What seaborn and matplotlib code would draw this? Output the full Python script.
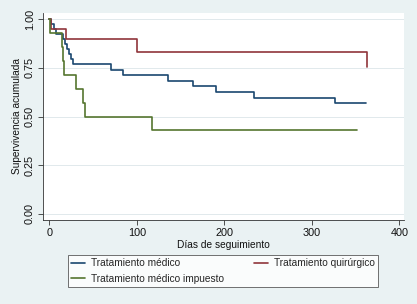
import numpy as np
import pandas as pd
import matplotlib
matplotlib.use("Agg")
import matplotlib.pyplot as plt
import seaborn as sns

# Kaplan-Meier steps
med_t = [0, 1.5, 5, 8, 16, 18, 20.5, 23, 24.5, 27.5, 71, 84, 136, 164, 190.5, 234, 326.5, 361.5]
med_s = [1.0, 0.974, 0.949, 0.923, 0.897, 0.872, 0.846, 0.820, 0.795, 0.769, 0.741, 0.713,
         0.684, 0.656, 0.627, 0.598, 0.569, 0.569]

qui_t = [0, 2, 19, 100, 363]
qui_s = [1.0, 0.95, 0.90, 0.83, 0.755]

imp_t = [0, 1, 15, 15.5, 17, 30, 39, 41, 117, 351.5]
imp_s = [1.0, 0.929, 0.857, 0.786, 0.714, 0.643, 0.571, 0.50, 0.429, 0.429]

labels = ["Tratamiento médico", "Tratamiento quirúrgico", "Tratamiento médico impuesto"]
colors = ["#1a476f", "#90353b", "#55752f"]
x_ticks = [0, 100, 200, 300, 400]
y_ticks = [0.0, 0.25, 0.50, 0.75, 1.00]

frames = []
for lab, t, s in zip(labels, [med_t, qui_t, imp_t], [med_s, qui_s, imp_s]):
    frames.append(pd.DataFrame({"t": t, "s": s, "grupo": lab}))
df = pd.concat(frames, ignore_index=True)

sns.set_theme(style="white")
plt.rcParams["font.family"] = ["Liberation Sans", "DejaVu Sans"]

bg = "#eaf2f3"
fig = plt.figure(figsize=(4.17, 3.04), dpi=100, facecolor=bg)
ax = fig.add_axes([43 / 417, 1 - 220 / 304, 361 / 417, 207 / 304])
ax.set_facecolor("white")

for yv in y_ticks:
    ax.axhline(yv, color="#e1e9ec", lw=0.7, zorder=0)

sns.lineplot(data=df, x="t", y="s", hue="grupo", hue_order=labels,
             palette=dict(zip(labels, colors)), estimator=None, sort=False,
             drawstyle="steps-post", lw=1.2, ax=ax, legend=False)

ax.set_xlim(-7.2, 405.4)
ax.set_ylim(-0.031, 1.032)
ax.set_xticks(x_ticks)
ax.set_xticklabels([str(v) for v in x_ticks])
ax.set_yticks(y_ticks)
ax.set_yticklabels([f"{v:.2f}" for v in y_ticks], rotation=90, va="center")
ax.tick_params(axis="both", which="both", length=3.5, width=0.6, color="#333333",
               labelsize=7.8, labelcolor="#111111", pad=2.5, left=True, bottom=True)
for side in ["top", "right"]:
    ax.spines[side].set_visible(False)
for side in ["left", "bottom"]:
    ax.spines[side].set_color("#333333")
    ax.spines[side].set_linewidth(0.6)

ax.set_xlabel("Días de seguimiento", fontsize=7.3, color="#111111", labelpad=1)
ax.set_ylabel("Supervivencia acumulada", fontsize=7.3, color="#111111", labelpad=2)

from matplotlib.lines import Line2D
h = [Line2D([], [], color=c, lw=1.2) for c in colors]
order = [0, 2, 1]
leg = fig.legend([h[i] for i in order], [labels[i] for i in order],
                 loc="center", bbox_to_anchor=(68 / 417, 1 - 288 / 304, 310 / 417, 34 / 304),
                 mode="expand", ncol=2, fontsize=7.3, frameon=True, fancybox=False,
                 handlelength=1.4, handletextpad=0.6, borderpad=0.3, labelspacing=0.55,
                 borderaxespad=0)
leg.get_frame().set_edgecolor("#333333")
leg.get_frame().set_linewidth(0.6)
leg.get_frame().set_facecolor("white")

fig.savefig("out.png", dpi=100, facecolor=bg)
